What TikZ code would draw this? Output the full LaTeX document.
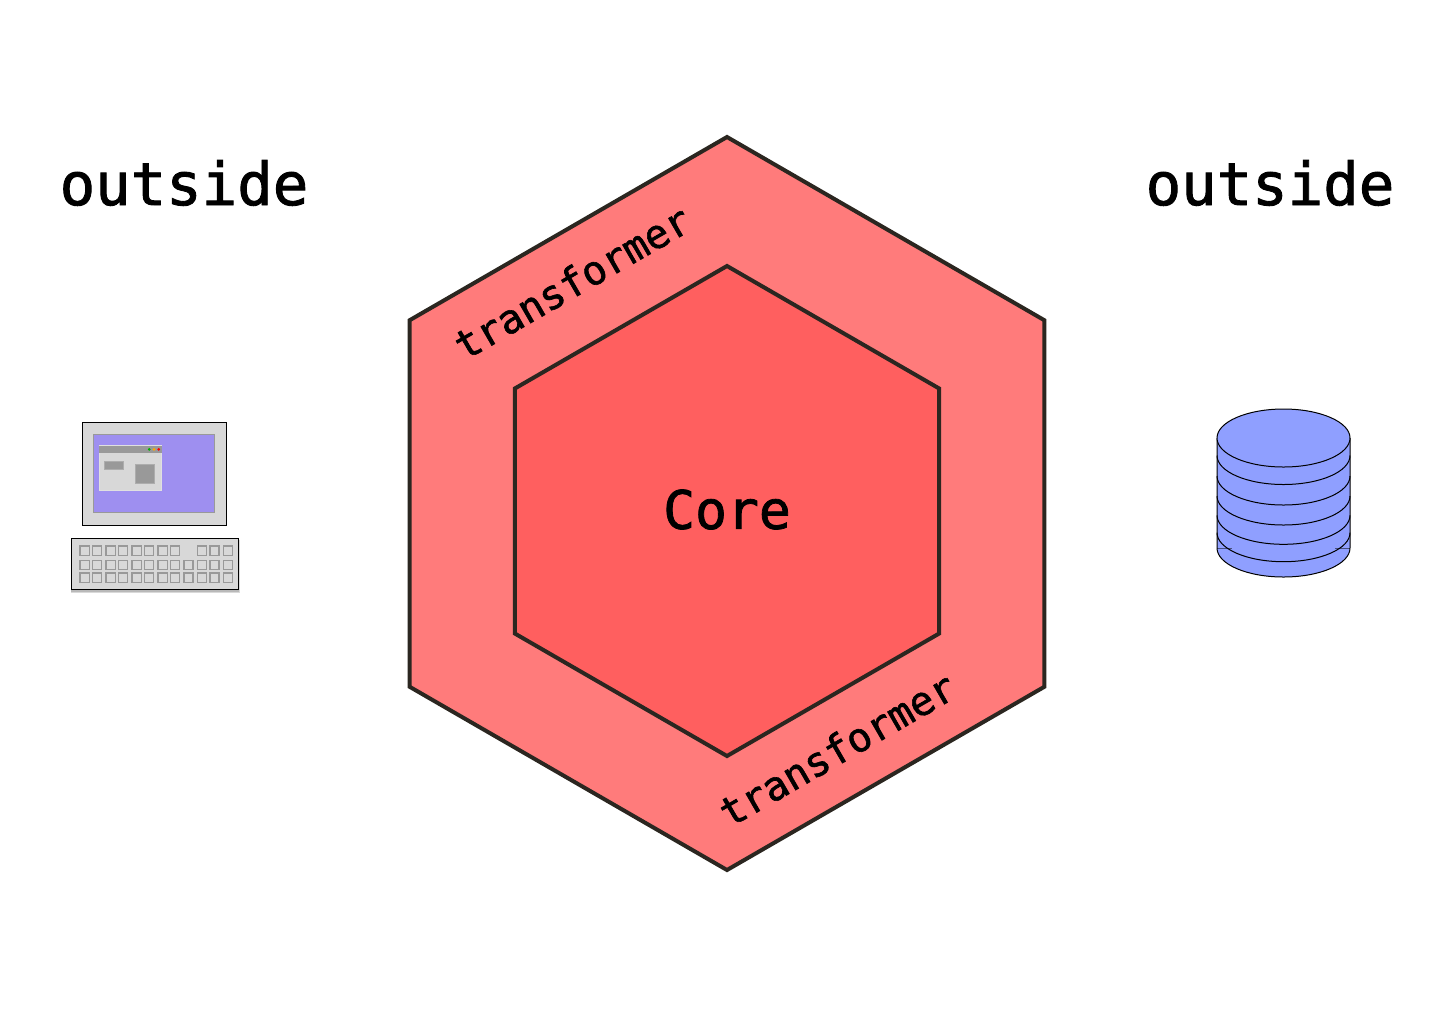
\documentclass[tikz,border=0pt]{standalone}
\usepackage{fontspec}
\setmonofont[FakeBold=1.5]{DejaVu Sans Mono}
\usetikzlibrary{shapes.geometric}
\definecolor{ringred}{HTML}{FF7B7B}
\definecolor{corered}{HTML}{FF5F5F}
\definecolor{hexline}{HTML}{2B2620}
\definecolor{dbblue}{HTML}{8F9FFF}
\definecolor{screenblue}{HTML}{9E8FF0}
\definecolor{boxgrey}{HTML}{D8D8D8}
\definecolor{partgrey}{HTML}{999999}
\tikzstyle{hexagon} = [regular polygon, regular polygon sides=6, shape border rotate=30, inner sep=0pt, outer sep=0pt, draw=hexline, line width=2pt]
\tikzstyle{bigtext} = [font=\ttfamily\fontsize{29.5}{32}\selectfont]
\tikzstyle{coretext} = [font=\ttfamily\fontsize{26.5}{30}\selectfont]
\tikzstyle{ringtext} = [font=\ttfamily\fontsize{20}{24}\selectfont, rotate=30]
\tikzstyle{casing} = [draw=black, line width=0.5pt, fill=boxgrey]
\tikzstyle{part} = [fill=partgrey, draw=partgrey!80!white, line width=0.25pt]
\tikzstyle{keycap} = [draw=partgrey, line width=0.8pt, fill=boxgrey]
\tikzstyle{dbline} = [draw=black, line width=0.5pt]
\tikzstyle{softshadow} = [fill=black, opacity=0.15]

\begin{document}
\begin{tikzpicture}[x=0.5pt, y=-0.5pt]
\useasboundingbox (0,0) rectangle (1440,1024);

\node (ring) [hexagon, fill=ringred, minimum size=366.5pt] at (727,503.5) {};
\node (core) [hexagon, fill=corered, minimum size=245pt] at (727,511) {};
\node (corelabel) [coretext] at (727,509.5) {Core};
\node (ringlabeltop) [ringtext] at (572,282) {transformer};
\node (ringlabelbottom) [ringtext] at (837,749) {transformer};
\node (outsideleft) [bigtext] at (184,183) {outside};
\node (outsideright) [bigtext] at (1270,183) {outside};

% computer
\draw [casing] (82.7,422.7) rectangle (226.7,525);
\fill [screenblue, draw=partgrey, line width=0.5pt] (93.3,434.3) rectangle (214.3,512.3);
\fill [boxgrey, draw=boxgrey!80!white, line width=0.4pt] (99.3,445.7) rectangle (161.7,490);
\fill [partgrey] (99.3,445.7) rectangle (161.7,453);
\fill [green!70!black] (149.3,449.3) circle (1.5);
\fill [orange!70!yellow] (154,449.3) circle (1.5);
\fill [red] (158.7,449.3) circle (1.5);
\draw [part] (104.3,461) rectangle (123,469);
\draw [part] (135.3,464.3) rectangle (154,483);

% keyboard
\fill [softshadow] (70.5,540) rectangle (239.5,593);
\fill [softshadow] (71.3,540) rectangle (238.7,591.5);
\draw [casing] (71.3,538.7) rectangle (238.7,589.7);
\foreach \keyx in {80,92.3,106,118.3,132,144.3,158,170.3,197.3,209.7,223.3}
  \draw [keycap] (\keyx,546) rectangle ++(9.3,9.3);
\foreach \keyy in {560.3,573}
  \foreach \keyx in {80,92.3,106,118.3,132,144.3,158,170.3,183.7,197.3,209.7,223.3}
    \draw [keycap] (\keyx,\keyy) rectangle ++(9.3,9.3);

% database
\fill [dbblue] (1217,438) -- (1217,548) arc [start angle=180, end angle=0, x radius=33.25pt, y radius=-14.5pt] -- (1350,438) -- cycle;
\draw [dbline] (1217,438) -- (1217,548) arc [start angle=180, end angle=0, x radius=33.25pt, y radius=-14.5pt] -- (1350,438);
\draw [dbline, fill=dbblue] (1283.5,438) ellipse [x radius=33.25pt, y radius=14.5pt];
\foreach \dby in {455.5,476,496,515.3,532.7}
  \draw [dbline] (1217,\dby) arc [start angle=180, end angle=0, x radius=33.25pt, y radius=-14.5pt];
\draw [draw=black, opacity=0.5, line width=0.5pt] (1217,548) -- (1232,548) (1335,548) -- (1350,548);
\end{tikzpicture}
\end{document}
